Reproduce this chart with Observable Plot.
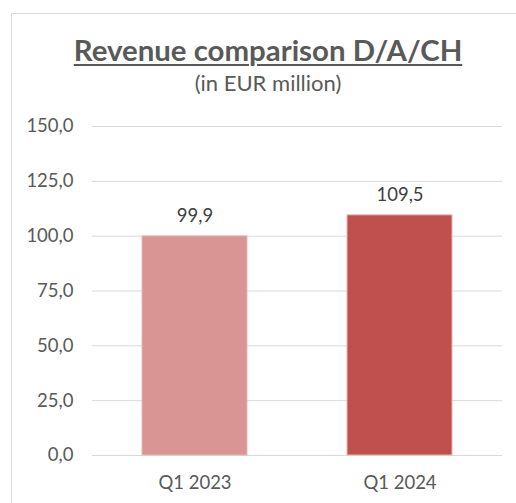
<!DOCTYPE html>
<html>
<head>
<meta charset="utf-8">
<script src="https://cdn.jsdelivr.net/npm/d3@7"></script>
<script src="https://cdn.jsdelivr.net/npm/@observablehq/plot@0.6"></script>
<style>
  html, body { margin: 0; padding: 0; background: #fff; }
  #wrap { position: relative; width: 516px; height: 503px; overflow: hidden; font-family: Lato, sans-serif; }
  #frame { position: absolute; left: 11px; top: 13px; width: 540px; height: 520px; border: 1px solid #d9d9d9; box-sizing: border-box; }
  #title { position: absolute; left: 11px; width: 514px; top: 35px; text-align: center; font-size: 29.4px; line-height: 29.4px; font-weight: bold; color: #595959; text-decoration: underline; text-decoration-thickness: 2px; text-underline-offset: 3px; white-space: nowrap; }
  #subtitle { position: absolute; left: 11px; width: 514px; top: 72px; text-align: center; font-size: 22px; line-height: 22px; color: #595959; white-space: nowrap; }
  #chart { position: absolute; left: 0; top: 0; }
</style>
</head>
<body>
<div id="wrap">
  <div id="frame"></div>
  <div id="chart"></div>
  <div id="title">Revenue comparison D/A/CH</div>
  <div id="subtitle">(in EUR million)</div>
</div>
<script>
const categories = ["Q1 2023", "Q1 2024"];
const revenue = [99.9, 109.5];
const yTicks = [0, 25, 50, 75, 100, 125, 150];

const data = categories.map((c, i) => ({period: c, value: revenue[i]}));
const fmt = d => d.toFixed(1).replace(".", ",");

const chart = Plot.plot({
  width: 516,
  height: 503,
  marginLeft: 92,
  marginRight: 14,
  marginTop: 126,
  marginBottom: 48,
  style: {fontFamily: "Lato, sans-serif", fontSize: "18.5px", color: "#595959", background: "transparent", overflow: "visible"},
  x: {domain: categories, paddingInner: 0.488, paddingOuter: 0.244, label: null, tickSize: 0, tickPadding: 20},
  y: {domain: [0, 150], ticks: yTicks, tickFormat: fmt, label: null, tickSize: 0, tickPadding: 19},
  color: {domain: categories, range: ["#D99594", "#C0504D"]},
  marks: [
    Plot.ruleY(yTicks, {stroke: "#d9d9d9", strokeWidth: 1}),
    Plot.barY(data, {x: "period", y: "value", fill: "period", stroke: "#E8B7B6", strokeWidth: 1}),
    Plot.text(data, {x: "period", y: "value", text: d => fmt(d.value), lineAnchor: "bottom", dy: -14, fill: "#404040", fontSize: 18.5})
  ]
});
document.getElementById("chart").appendChild(chart);
</script>
</body>
</html>
